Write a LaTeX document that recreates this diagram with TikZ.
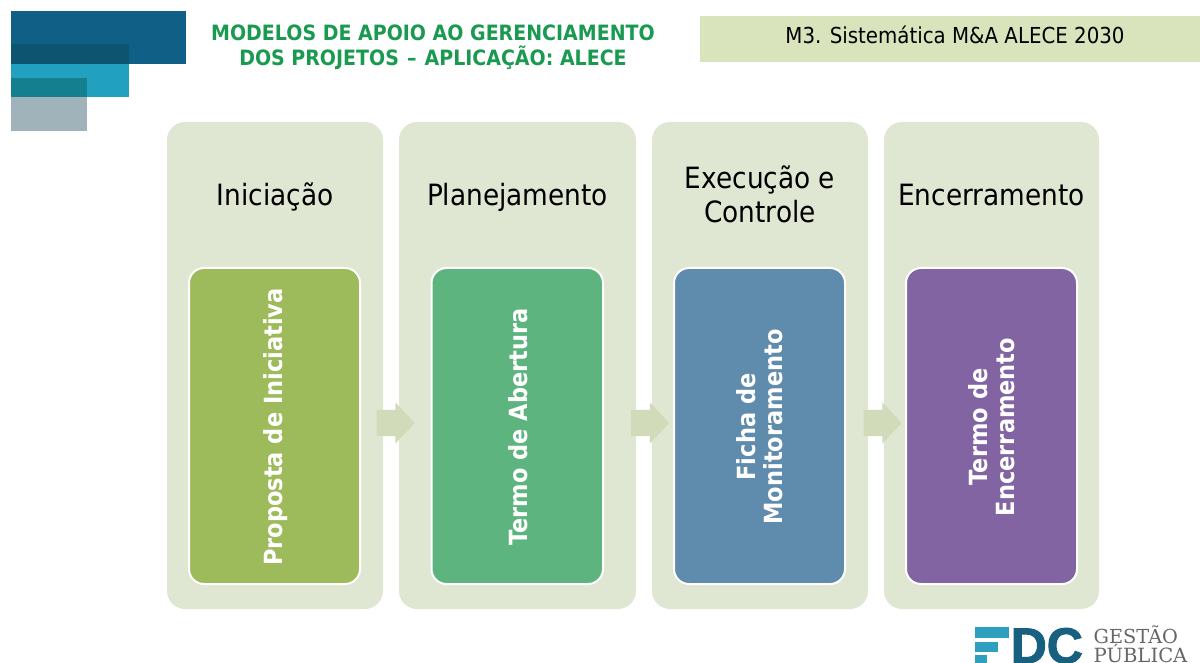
\documentclass[tikz,border=0pt]{standalone}
\usepackage{fontspec}
\setmainfont[FakeStretch=0.9]{DejaVu Sans}
\newfontfamily\boldface[FakeStretch=0.9]{DejaVu Sans Bold}
\newfontfamily\logofont[FakeBold=2]{Liberation Sans Bold}
\newfontfamily\slabfont{DejaVu Serif}
\usetikzlibrary{shapes.arrows}
\definecolor{panelc}{HTML}{DFE7D3}
\definecolor{arrowc}{HTML}{D1DBB9}
\definecolor{bannerc}{HTML}{D9E4BC}
\definecolor{titlec}{HTML}{1A9A50}
\definecolor{cardA}{HTML}{9DBB5B}
\definecolor{cardB}{HTML}{5DB47E}
\definecolor{cardC}{HTML}{5F8BAC}
\definecolor{cardD}{HTML}{8264A2}
\definecolor{logoA}{HTML}{2E9FBF}
\definecolor{logoB}{HTML}{17607F}
\tikzset{
 panel/.style={fill=panelc,rounded corners=18pt},
 card/.style={fill=#1,draw=white,line width=2pt,rounded corners=15pt},
 cardtext/.style={text=white,font=\boldface\fontsize{25}{27}\selectfont,rotate=90,align=center},
 head/.style={text=black,font=\fontsize{29.3}{33.5}\selectfont,align=center},
 flow/.style={single arrow,fill=arrowc,draw=none,minimum height=38pt,inner xsep=0pt,inner ysep=13pt,single arrow head extend=7.5pt,single arrow tip angle=94},
}
\begin{document}
\begin{tikzpicture}[x=1pt,y=-1pt]
\useasboundingbox (0,0) rectangle (1200,663);
% corner bars
\fill[fill={rgb,255:red,15;green,95;blue,134}] (11,11) rectangle (186,64);
\fill[fill={rgb,255:red,34;green,160;blue,191}] (11,64) rectangle (129,97);
\fill[fill={rgb,255:red,13;green,84;blue,112}] (11,44) rectangle (129,64);
\fill[fill={rgb,255:red,160;green,178;blue,186}] (11,97) rectangle (87,131);
\fill[fill={rgb,255:red,20;green,128;blue,143}] (11,78) rectangle (87,97);
% title
\node[text=titlec,font=\boldface\fontsize{21.1}{25}\selectfont,align=center] (title) at (433,47.5) {MODELOS DE APOIO AO GERENCIAMENTO\\DOS PROJETOS\hspace{1.5pt} – \hspace{1.5pt}APLICAÇÃO: ALECE};
\fill[bannerc] (700,16) rectangle (1200,62);
\node[font=\fontsize{22}{26}\selectfont] (banner) at (955,35) {M3. Sistemática M\&A ALECE 2030};
% panels
\fill[panel] (167,122) rectangle (383,609);
\fill[panel] (399,122) rectangle (636,609);
\fill[panel] (652,122) rectangle (868,609);
\fill[panel] (884,122) rectangle (1099,609);
\node[head,anchor=base] (h1) at (275,206) {Iniciação};
\node[head,anchor=base] (h2) at (517.5,206) {Planejamento};
\node[head] (h3) at (760,194.5) {Execução e\\Controle};
\node[head,anchor=base] (h4) at (991.5,206) {Encerramento};
% cards
\draw[card=cardA] (189,268) rectangle (360,584);
\draw[card=cardB] (431.5,268) rectangle (603,584);
\draw[card=cardC] (674,268) rectangle (845,584);
\draw[card=cardD] (906,268) rectangle (1077,584);
\node[cardtext] (c1) at (276,427) {Proposta de Iniciativa};
\node[cardtext] (c2) at (518,427) {Termo de Abertura};
\node[cardtext] (c3) at (760,427) {Ficha de\\Monitoramento};
\node[cardtext] (c4) at (992,427) {Termo de\\Encerramento};
% flow arrows
\node[flow] (a1) at (389.5,423) {};
\node[flow] (a2) at (644,423) {};
\node[flow] (a3) at (876.5,423) {};
% logo
\fill[logoA] (975,627) rectangle (1009,637.5);
\fill[logoA] (975,642) rectangle (998,651.5);
\fill[logoA] (975,655) rectangle (987,663);
\node[text=logoB,font=\logofont\fontsize{50}{50}\selectfont,inner sep=0pt,anchor=base west] (fdc) at (1010.5,663) {DC};
\node[text=black!60,font=\slabfont\fontsize{19.3}{22}\selectfont,inner sep=0pt,anchor=base west] (g1) at (1093.5,643) {GESTÃO};
\node[text=black!60,font=\slabfont\fontsize{19.6}{22}\selectfont,inner sep=0pt,anchor=base west] (g2) at (1093.5,662) {PÚBLICA};
\end{tikzpicture}
\end{document}
